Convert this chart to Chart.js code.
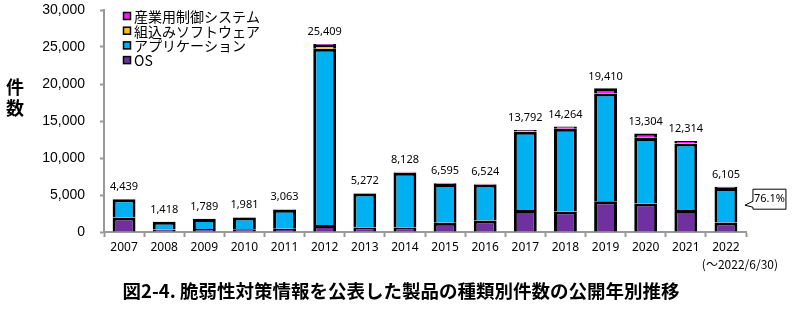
<!DOCTYPE html>
<html>
<head>
<meta charset="utf-8">
<script src="https://cdn.jsdelivr.net/npm/chart.js@4/dist/chart.umd.min.js"></script>
<style>
html,body{margin:0;padding:0;background:#fff;}
#wrap{position:relative;width:812px;height:324px;}
</style>
</head>
<body>
<div id="wrap"><canvas id="c" width="812" height="324"></canvas></div>
<script>
const categories = ['2007','2008','2009','2010','2011','2012','2013','2014','2015','2016','2017','2018','2019','2020','2021','2022'];
const seriesNames = ['OS','アプリケーション','組込みソフトウェア','産業用制御システム'];
const osVals  = [1950, 350, 400, 380, 450, 950, 600, 600, 1250, 1550, 2980, 2760, 4150, 3840, 2980, 1300];
const appVals = [2459,1050,1360,1570,2540,23809,4600,7420,5220,4860,10582,11184,14560,8874,8994,4646];
const embVals = [  20,  10,  15,  15,  30, 500,  20,  30,  30,  20,  30,  20,  20,  10,  10,   5];
const icsVals = [  10,   8,  14,  16,  43, 150,  52,  78,  95,  94, 200, 300, 680, 580, 330, 154];
const totals  = [4439,1418,1789,1981,3063,25409,5272,8128,6595,6524,13792,14264,19410,13304,12314,6105];
const yTicks = [0,5000,10000,15000,20000,25000,30000];
const titleText = '図2-4. 脆弱性対策情報を公表した製品の種類別件数の公開年別推移';
const yTitle = ['件','数'];
const lastNote = '(～2022/6/30)';
const shareNote = '76.1%';

const colors = ['#7030A0','#00B0F0','#FFC000','#F020F0'];

const extras = {
  id:'extras',
  afterDatasetsDraw(chart){
    const ctx = chart.ctx, x = chart.scales.x, y = chart.scales.y;
    ctx.save();
    ctx.font = '11px "Noto Sans"';
    ctx.fillStyle = '#000';
    ctx.textAlign = 'center';
    ctx.textBaseline = 'middle';
    let prev = null;
    totals.forEach((t,i)=>{
      const txt = t.toLocaleString('en-US');
      const w = ctx.measureText(txt).width;
      const cx = x.getPixelForValue(i);
      let cy = y.getPixelForValue(t) - 12;
      if(prev){
        const hOverlap = (w + prev.w)/2 + 3 > (cx - prev.cx);
        if(hOverlap && cy > prev.cy && cy - prev.cy < 14) cy = prev.cy;
      }
      ctx.fillText(txt, cx, cy);
      prev = {cx, cy, w};
    });
    ctx.restore();
  },
  afterDraw(chart){
    const ctx = chart.ctx, x = chart.scales.x, y = chart.scales.y;
    ctx.save();
    ctx.font = '14px "Noto Sans CJK JP"';
    ctx.textBaseline = 'middle';
    ctx.textAlign = 'left';
    for(let k=0;k<4;k++){
      const di = 3-k;
      const cy = 16 + k*14.7;
      ctx.fillStyle = colors[di];
      ctx.fillRect(123.5, cy-3.5, 7, 7);
      ctx.strokeStyle = '#000'; ctx.lineWidth = 1.5;
      ctx.strokeRect(123.5, cy-3.5, 7, 7);
      ctx.fillStyle = '#000';
      ctx.fillText(seriesNames[di], 134, cy+0.5);
    }
    ctx.font = 'bold 18px "Noto Sans CJK JP"';
    ctx.textAlign = 'center';
    ctx.fillText(yTitle[0], 15, 87);
    ctx.fillText(yTitle[1], 15, 108);
    ctx.font = '12px "Noto Sans CJK JP"';
    ctx.fillText(lastNote, x.getPixelForValue(categories.length-1)+14, 264);
    const bx = x.getPixelForValue(categories.length-1) + 27;
    const by = y.getPixelForValue(appVals[15]/2 + osVals[15]) - 6;
    ctx.beginPath();
    ctx.moveTo(bx, by-10);
    ctx.lineTo(bx+33, by-10);
    ctx.lineTo(bx+33, by+10);
    ctx.lineTo(bx, by+10);
    ctx.lineTo(bx, by+8);
    ctx.lineTo(bx-8, by+6);
    ctx.lineTo(bx, by+2);
    ctx.closePath();
    ctx.fillStyle = '#fff'; ctx.fill();
    ctx.strokeStyle = '#000'; ctx.lineWidth = 1; ctx.stroke();
    ctx.fillStyle = '#000';
    ctx.font = '11px "Noto Sans"';
    ctx.fillText(shareNote, bx+16.5, by);
    ctx.font = 'bold 18.5px "Noto Sans CJK JP"';
    ctx.fillText(titleText, 401, 291);
    ctx.restore();
  }
};

const vals = [osVals, appVals, embVals, icsVals];
new Chart(document.getElementById('c'), {
  type:'bar',
  data:{
    labels: categories,
    datasets: vals.map((v,i)=>({
      label: seriesNames[i],
      data: v,
      backgroundColor: colors[i],
      borderColor:'#000',
      borderWidth:3,
      borderSkipped:'start',
      barPercentage:0.57,
      categoryPercentage:1.0
    }))
  },
  options:{
    responsive:false,
    animation:false,
    devicePixelRatio:1,
    layout:{padding:{left:0,top:10,right:66,bottom:0}},
    plugins:{legend:{display:false},tooltip:{enabled:false},title:{display:false}},
    scales:{
      x:{
        stacked:true,
        offset:true,
        grid:{display:true,drawOnChartArea:false,drawTicks:true,tickLength:5,tickColor:'#999',tickWidth:2,offset:true},
        border:{color:'#999',width:2},
        ticks:{font:{family:'Noto Sans',size:12},color:'#000',padding:3,maxRotation:0,autoSkip:false},
        afterFit(s){ s.height = 92; }
      },
      y:{
        stacked:true,
        min:0,max:30000,
        afterBuildTicks(s){ s.ticks = yTicks.map(v=>({value:v})); },
        grid:{display:true,drawOnChartArea:false,drawTicks:true,tickLength:4,tickColor:'#999',tickWidth:2},
        border:{color:'#999',width:2},
        ticks:{font:{family:'Liberation Sans',size:14},color:'#000',padding:15,
          callback:(v)=>Number(v).toLocaleString('en-US')},
        afterFit(s){ s.width = 104; s.paddingTop = 0; s.paddingBottom = 0; }
      }
    }
  },
  plugins:[extras]
});
</script>
</body>
</html>
